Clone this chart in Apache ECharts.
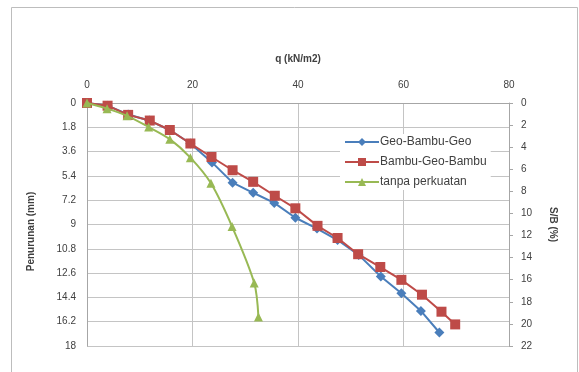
<!DOCTYPE html>
<html>
<head>
<meta charset="utf-8">
<script src="https://cdn.jsdelivr.net/npm/echarts@6/dist/echarts.min.js"></script>
<style>
  html, body { margin: 0; padding: 0; background: #fff; }
  #chart { width: 579px; height: 372px; }
</style>
</head>
<body>
<div id="chart"></div>
<script>
// Load q (kN/m2) against settlement (mm) for three reinforcement layouts
const qGeo    = [0, 3.9, 7.8, 11.8, 15.7, 19.6, 23.7, 27.6, 31.5, 35.5, 39.5, 43.6, 47.5, 51.5, 55.7, 59.6, 63.3, 66.8];
const sGeo    = [0, 0.2, 0.85, 1.3, 2.0, 3.0, 4.4, 5.9, 6.65, 7.4, 8.5, 9.3, 10.15, 11.25, 12.85, 14.1, 15.4, 17.0];

const qBambu  = [0, 3.9, 7.8, 11.9, 15.7, 19.6, 23.6, 27.6, 31.5, 35.6, 39.5, 43.7, 47.5, 51.4, 55.6, 59.6, 63.5, 67.2, 69.8];
const sBambu  = [0, 0.2, 0.88, 1.3, 2.0, 3.0, 4.0, 4.98, 5.84, 6.87, 7.8, 9.1, 10.0, 11.2, 12.15, 13.1, 14.2, 15.46, 16.4];

const qTanpa  = [0, 3.8, 7.6, 11.7, 15.7, 19.6, 23.5, 27.5, 31.7, 32.5];
const sTanpa  = [0, 0.42, 0.95, 1.78, 2.68, 4.05, 5.95, 9.15, 13.33, 15.85];

const seriesNames = ['Geo-Bambu-Geo', 'Bambu-Geo-Bambu', 'tanpa perkuatan'];
const colors = ['#4A7EBB', '#BE4B48', '#98B954'];

const pairs = (xs, ys) => xs.map((x, i) => [x, ys[i]]);

const font = 'Liberation Sans, Arial, sans-serif';
const textColor = '#404040';
const gridColor = '#c4c4c4';

const chart = echarts.init(document.getElementById('chart'), null, { renderer: 'canvas' });

chart.setOption({
  animation: false,
  backgroundColor: '#ffffff',
  graphic: [{
    type: 'rect',
    shape: { x: 11.5, y: 7.5, width: 566, height: 372 },
    style: { fill: 'none', stroke: '#bdbdbd', lineWidth: 1 },
    silent: true,
    z: -1
  }],
  grid: { left: 87, right: 70, top: 103, bottom: 26 },
  legend: {
    orient: 'vertical',
    left: 340,
    top: 134,
    itemGap: 8,
    itemWidth: 34,
    itemHeight: 10,
    backgroundColor: '#ffffff',
    padding: [2, 4, 2, 4],
    textStyle: { fontFamily: font, fontSize: 12, color: textColor, padding: [0, 0, 0, -4] },
    data: seriesNames
  },
  xAxis: {
    type: 'value',
    position: 'top',
    min: 0,
    max: 80,
    interval: 20,
    name: 'q (kN/m2)',
    nameLocation: 'middle',
    nameGap: 39,
    nameTextStyle: { fontFamily: font, fontSize: 10, fontWeight: 'bold', color: textColor },
    axisLine: { show: true, lineStyle: { color: '#a6a6a6' } },
    axisTick: { show: false },
    axisLabel: { fontFamily: font, fontSize: 10, color: textColor, margin: 13 },
    splitLine: { show: true, lineStyle: { color: gridColor, width: 1 } }
  },
  yAxis: [{
    type: 'value',
    inverse: true,
    min: 0,
    max: 18,
    interval: 1.8,
    name: 'Penurunan (mm)',
    nameLocation: 'middle',
    nameGap: 51,
    nameRotate: 90,
    nameTextStyle: { fontFamily: font, fontSize: 10, fontWeight: 'bold', color: textColor, padding: [0, 0, 0, -14] },
    axisLine: { show: true, lineStyle: { color: '#a6a6a6' } },
    axisTick: { show: false },
    axisLabel: {
      fontFamily: font, fontSize: 10, color: textColor, margin: 11,
      formatter: v => String(Math.round(v * 10) / 10)
    },
    splitLine: { show: true, lineStyle: { color: gridColor, width: 1 } }
  }, {
    type: 'value',
    inverse: true,
    position: 'right',
    min: 0,
    max: 22,
    interval: 2,
    name: 'S/B (%)',
    nameLocation: 'middle',
    nameGap: 39,
    nameRotate: -90,
    nameTextStyle: { fontFamily: font, fontSize: 10, fontWeight: 'bold', color: textColor },
    axisLine: { show: true, lineStyle: { color: '#a6a6a6' } },
    axisTick: { show: true, length: 4, lineStyle: { color: '#a6a6a6' } },
    axisLabel: { fontFamily: font, fontSize: 10, color: textColor, margin: 12 },
    splitLine: { show: false }
  }],
  series: [{
    name: seriesNames[0],
    type: 'line',
    yAxisIndex: 0,
    data: pairs(qGeo, sGeo),
    symbol: 'diamond',
    symbolSize: 10,
    lineStyle: { color: colors[0], width: 2 },
    itemStyle: { color: colors[0] },
    z: 3
  }, {
    name: seriesNames[1],
    type: 'line',
    yAxisIndex: 0,
    data: pairs(qBambu, sBambu),
    symbol: 'rect',
    symbolSize: 10,
    lineStyle: { color: colors[1], width: 2 },
    itemStyle: { color: colors[1] },
    z: 4
  }, {
    name: seriesNames[2],
    type: 'line',
    yAxisIndex: 0,
    data: pairs(qTanpa, sTanpa),
    symbol: 'triangle',
    symbolSize: 9,
    smooth: 0.3,
    lineStyle: { color: colors[2], width: 2 },
    itemStyle: { color: colors[2] },
    z: 5
  }]
});
</script>
</body>
</html>
